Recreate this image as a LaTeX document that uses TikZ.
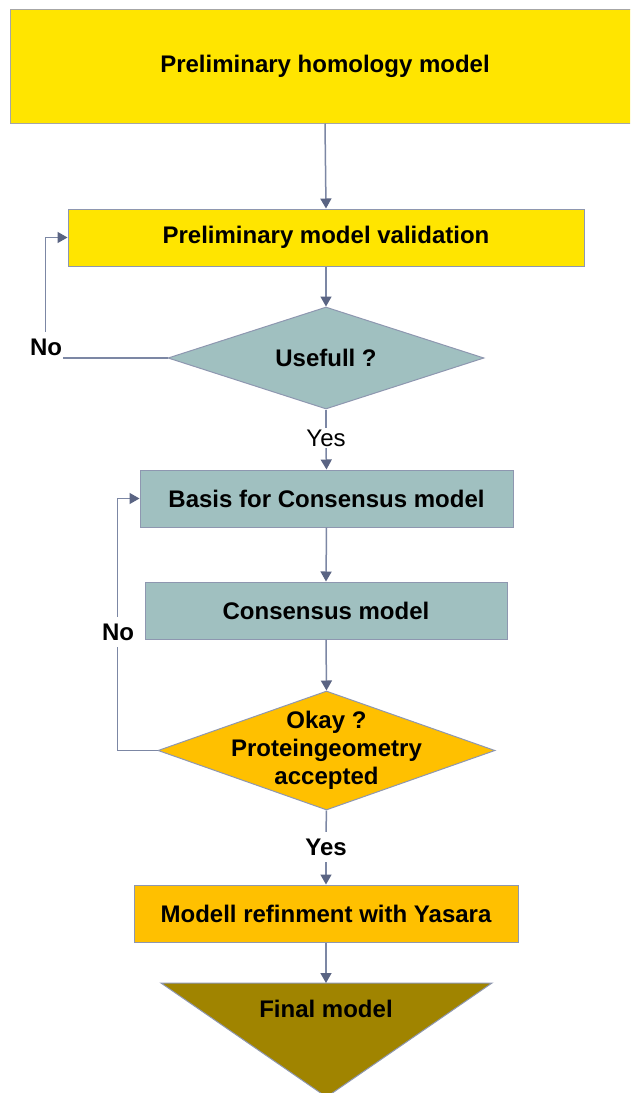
\documentclass[tikz,border=0pt]{standalone}
\usepackage{fontspec}
\setmainfont{Liberation Sans}
\usetikzlibrary{shapes.geometric,arrows.meta}
\definecolor{ylw}{HTML}{FFE500}
\definecolor{tealc}{HTML}{A0C0C0}
\definecolor{orng}{HTML}{FFC000}
\definecolor{olivec}{HTML}{A08400}
\definecolor{bord}{HTML}{8E97B0}
\definecolor{lnc}{HTML}{7C87A4}
\definecolor{tipc}{HTML}{5A6483}
\begin{document}
\begin{tikzpicture}[x=1pt,y=-1pt,
  bx/.style={rectangle,draw=bord,line width=1pt,inner sep=0pt,minimum height=57pt,
    font=\fontsize{24}{28}\selectfont\bfseries},
  dia/.style={diamond,draw=bord,line width=1pt,inner sep=0pt},
  txt/.style={font=\fontsize{24}{28}\selectfont\bfseries,align=center,inner sep=0pt},
  lbl/.style={font=\fontsize{24}{28}\selectfont\bfseries,inner sep=2pt},
  nolbl/.style={font=\fontsize{24}{28}\selectfont\bfseries,fill=white,inner sep=0pt,minimum width=34pt,minimum height=30pt},
  conn/.style={draw=lnc,line width=1.5pt},
  arr/.style={conn,-{Triangle[length=10pt,width=11pt,color=tipc]}}
]
\useasboundingbox (0,0) rectangle (630,1093);
\clip (0,0) rectangle (630,1093);
\fill[white] (0,0) rectangle (630,1093);

% nodes
\node[bx,fill=ylw,draw=gray!70,minimum width=630pt,minimum height=114pt] (b1) at (325,66) {Preliminary homology model};
\node[bx,fill=ylw,minimum width=516pt] (b2) at (326,237.5) {Preliminary model validation};
\node[dia,fill=tealc,minimum width=316pt,minimum height=102pt] (d1) at (326,358) {};
\node[txt] at (d1.center) {Usefull ?};
\node[font=\fontsize{24}{28}\selectfont,inner sep=1.5pt] (y1) at (326,438) {Yes};
\node[bx,fill=tealc,minimum width=373pt] (b3) at (326.5,498.5) {Basis for Consensus model};
\node[bx,fill=tealc,minimum width=362pt] (b4) at (326,610.5) {Consensus model};
\node[dia,fill=orng,minimum width=337pt,minimum height=119pt] (d2) at (326.5,750.5) {};
\node[txt] at (d2.center) {Okay ?\\Proteingeometry\\accepted};
\node[lbl,inner sep=6.5pt] (y2) at (326,847) {Yes};
\node[bx,fill=orng,minimum width=384pt] (b5) at (326,913.5) {Modell refinment with Yasara};
\coordinate (tri) at (326,983);
\filldraw[fill=olivec,draw=bord,line width=1pt] (161,983) -- (492,983) -- (326.5,1097) -- cycle;
\node[txt] at (326,1009) {Final model};

% connectors
\draw[arr] (b1.south) -- (b2.north);
\draw[arr] (b2.south) -- (d1.north);
\draw[arr] (d1.west) -| ([xshift=-22pt]b2.west) -- (b2.west);
\node[nolbl] (n1) at (46,347) {No};
\draw[conn] (d1.south) -- (y1.north);
\draw[arr] (y1.south) -- (b3.north);
\draw[arr] (b3.south) -- (b4.north);
\draw[arr] (b4.south) -- (d2.north);
\draw[arr] (d2.west) -| ([xshift=-22pt]b3.west) -- (b3.west);
\node[nolbl] (n2) at (118,632) {No};
\draw[conn] (d2.south) -- (y2.north);
\draw[arr] (y2.south) -- (b5.north);
\draw[arr] (b5.south) -- (tri);
\end{tikzpicture}
\end{document}
